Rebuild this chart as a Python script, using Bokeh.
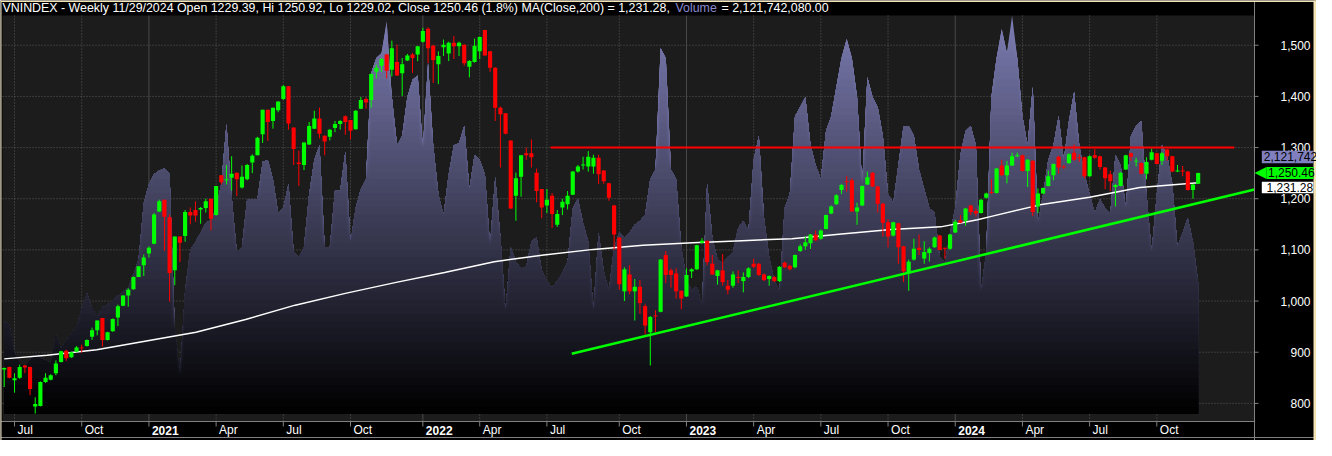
import numpy as np
import pandas as pd
from bokeh.plotting import figure
from bokeh.models import Range1d
from bokeh.core.properties import value
from bokeh.embed import file_html
from bokeh.resources import INLINE

# ---------------- data (weekly VNINDEX bars) ----------------
opens = [866, 871, 845, 850, 874, 871, 794, 795, 842, 846,
         859, 881, 903, 890, 901, 909, 912, 930, 943, 967,
         924, 941, 968, 991, 1011, 1023, 1047, 1070, 1093, 1112,
         1175, 1198, 1164, 1060, 1126, 1127, 1174, 1178, 1179, 1182,
         1200, 1168, 1246, 1236, 1241, 1251, 1222, 1238, 1271, 1285,
         1326, 1374, 1352, 1373, 1395, 1420, 1339, 1271, 1266, 1306,
         1337, 1357, 1323, 1321, 1338, 1346, 1361, 1354, 1336, 1376,
         1395, 1393, 1448, 1460, 1482, 1452, 1467, 1445, 1470, 1482,
         1482, 1507, 1532, 1499, 1463, 1496, 1484, 1505, 1498, 1501,
         1458, 1467, 1488, 1530, 1488, 1456, 1378, 1367, 1314, 1206,
         1243, 1289, 1289, 1251, 1219, 1187, 1206, 1149, 1183, 1189,
         1208, 1253, 1265, 1263, 1263, 1280, 1255, 1230, 1187, 1124,
         1019, 1052, 1019, 1028, 990, 939, 972, 979, 1090, 1060,
         1054, 1020, 1009, 1058, 1062, 1114, 1118, 1073, 1049, 1060,
         1030, 1030, 1047, 1039, 1047, 1073, 1073, 1052, 1043, 1047,
         1039, 1075, 1069, 1066, 1098, 1107, 1113, 1130, 1122, 1141,
         1171, 1189, 1217, 1234, 1236, 1175, 1187, 1228, 1251, 1224,
         1190, 1154, 1128, 1152, 1107, 1054, 1081, 1104, 1083, 1094,
         1105, 1128, 1104, 1102, 1134, 1158, 1157, 1187, 1176, 1172,
         1202, 1213, 1211, 1265, 1246, 1265, 1283, 1285, 1254, 1274,
         1185, 1210, 1225, 1246, 1282, 1263, 1270, 1290, 1281, 1281,
         1244, 1285, 1283, 1261, 1248, 1223, 1225, 1257, 1289, 1273,
         1270, 1249, 1276, 1289, 1274, 1296, 1283, 1253, 1255, 1253,
         1217, 1229.39]
highs = [870, 872, 859, 876, 875, 872, 812, 843, 859, 857,
         884, 903, 905, 901, 912, 915, 925, 948, 962, 967,
         940, 966, 993, 1011, 1025, 1048, 1068, 1091, 1107, 1172,
         1198, 1198, 1169, 1126, 1126, 1178, 1183, 1195, 1184, 1200,
         1200, 1225, 1246, 1266, 1283, 1251, 1265, 1268, 1287, 1321,
         1374, 1374, 1378, 1390, 1422, 1420, 1339, 1294, 1310, 1350,
         1372, 1378, 1324, 1336, 1352, 1354, 1363, 1354, 1373, 1399,
         1398, 1445, 1462, 1475, 1483, 1509, 1501, 1475, 1483, 1485,
         1498, 1534, 1535, 1501, 1488, 1511, 1507, 1518, 1507, 1502,
         1471, 1513, 1517, 1530, 1489, 1457, 1380, 1367, 1314, 1251,
         1285, 1300, 1316, 1259, 1219, 1219, 1211, 1178, 1200, 1215,
         1254, 1266, 1282, 1293, 1286, 1286, 1256, 1231, 1188, 1124,
         1066, 1070, 1043, 1041, 994, 971, 982, 1082, 1098, 1064,
         1064, 1021, 1064, 1064, 1110, 1123, 1118, 1090, 1061, 1092,
         1041, 1058, 1060, 1056, 1066, 1083, 1074, 1054, 1050, 1049,
         1068, 1077, 1071, 1091, 1111, 1126, 1131, 1138, 1140, 1169,
         1187, 1209, 1229, 1244, 1240, 1192, 1226, 1253, 1252, 1225,
         1192, 1160, 1155, 1153, 1108, 1081, 1122, 1130, 1117, 1105,
         1126, 1129, 1104, 1131, 1159, 1168, 1182, 1188, 1181, 1199,
         1212, 1238, 1260, 1276, 1274, 1290, 1290, 1286, 1277, 1275,
         1220, 1222, 1255, 1269, 1284, 1266, 1289, 1306, 1287, 1282,
         1285, 1297, 1284, 1262, 1255, 1229, 1252, 1286, 1290, 1280,
         1271, 1281, 1298, 1290, 1291, 1297, 1284, 1266, 1264, 1254,
         1229, 1250.92]
lows = [832, 849, 821, 848, 859, 816, 780, 794, 840, 845,
        855, 880, 883, 889, 900, 899, 911, 924, 933, 911,
        923, 940, 951, 990, 989, 1022, 1047, 1049, 1085, 1111,
        1174, 1098, 999, 1031, 1076, 1116, 1150, 1155, 1151, 1173,
        1138, 1167, 1228, 1228, 1216, 1205, 1220, 1236, 1250, 1285,
        1309, 1313, 1337, 1369, 1393, 1335, 1266, 1225, 1256, 1305,
        1336, 1318, 1285, 1314, 1330, 1335, 1325, 1316, 1335, 1375,
        1376, 1378, 1435, 1448, 1435, 1439, 1440, 1401, 1469, 1446,
        1469, 1505, 1465, 1426, 1424, 1479, 1469, 1473, 1479, 1460,
        1437, 1466, 1473, 1480, 1448, 1352, 1261, 1326, 1180, 1157,
        1204, 1276, 1261, 1193, 1162, 1172, 1143, 1145, 1168, 1179,
        1207, 1251, 1257, 1253, 1249, 1229, 1229, 1196, 1100, 1022,
        1000, 1013, 962, 975, 935, 874, 939, 978, 1035, 1026,
        1005, 984, 1008, 1045, 1061, 1112, 1070, 1051, 1032, 1030,
        1013, 1026, 1035, 1017, 1045, 1064, 1049, 1039, 1030, 1037,
        1037, 1064, 1060, 1064, 1096, 1100, 1102, 1117, 1120, 1140,
        1170, 1188, 1209, 1214, 1175, 1149, 1186, 1227, 1223, 1173,
        1126, 1105, 1126, 1073, 1037, 1020, 1079, 1090, 1073, 1077,
        1104, 1099, 1083, 1100, 1133, 1152, 1147, 1168, 1165, 1171,
        1200, 1209, 1210, 1245, 1230, 1264, 1281, 1253, 1223, 1166,
        1172, 1209, 1224, 1236, 1249, 1258, 1268, 1274, 1272, 1240,
        1243, 1278, 1257, 1219, 1215, 1185, 1224, 1256, 1274, 1263,
        1248, 1238, 1275, 1267, 1266, 1274, 1252, 1252, 1244, 1216,
        1200, 1229.02]
closes = [869, 850, 849, 871, 870, 828, 799, 842, 850, 855,
          878, 902, 888, 900, 909, 908, 924, 943, 962, 924,
          939, 965, 990, 1011, 1022, 1047, 1068, 1085, 1104, 1169,
          1195, 1165, 1055, 1126, 1114, 1174, 1167, 1167, 1182, 1195,
          1161, 1225, 1232, 1238, 1249, 1238, 1243, 1266, 1284, 1319,
          1374, 1350, 1378, 1390, 1420, 1347, 1297, 1268, 1310, 1342,
          1357, 1327, 1312, 1335, 1346, 1352, 1350, 1333, 1372, 1393,
          1388, 1444, 1456, 1473, 1450, 1494, 1441, 1463, 1480, 1475,
          1498, 1528, 1494, 1471, 1479, 1501, 1505, 1498, 1505, 1465,
          1469, 1499, 1516, 1480, 1456, 1378, 1365, 1327, 1181, 1240,
          1285, 1285, 1281, 1215, 1183, 1198, 1170, 1170, 1194, 1206,
          1253, 1263, 1267, 1282, 1280, 1248, 1234, 1202, 1130, 1033,
          1062, 1019, 1028, 996, 952, 969, 970, 1081, 1051, 1051,
          1019, 1005, 1051, 1062, 1109, 1118, 1076, 1052, 1060, 1037,
          1022, 1052, 1045, 1047, 1064, 1067, 1051, 1041, 1049, 1039,
          1067, 1066, 1062, 1090, 1107, 1115, 1130, 1119, 1138, 1168,
          1185, 1207, 1227, 1232, 1175, 1183, 1225, 1242, 1224, 1190,
          1153, 1126, 1154, 1105, 1058, 1077, 1102, 1100, 1096, 1102,
          1124, 1100, 1102, 1130, 1155, 1153, 1181, 1174, 1171, 1198,
          1210, 1211, 1259, 1246, 1265, 1283, 1285, 1254, 1276, 1174,
          1210, 1221, 1244, 1268, 1261, 1261, 1287, 1276, 1279, 1244,
          1283, 1280, 1262, 1240, 1234, 1227, 1251, 1285, 1282, 1274,
          1249, 1272, 1291, 1268, 1289, 1283, 1253, 1255, 1253, 1217,
          1228, 1250.46]
# weekly volume, billions of shares
volume_bn = [1.49, 1.44, 0.97, 0.82, 0.77, 0.86, 0.97, 0.89, 0.86, 0.82,
             1.27, 1.05, 1.18, 1.29, 1.40, 1.71, 1.95, 1.71, 1.57, 1.73,
             1.76, 1.84, 1.91, 1.99, 2.04, 2.26, 2.50, 3.41, 3.72, 3.88,
             3.94, 3.97, 3.88, 1.37, 0.63, 1.99, 2.65, 2.78, 2.93, 3.09,
             3.14, 3.33, 3.72, 4.69, 3.52, 2.62, 2.70, 3.48, 3.48, 3.48,
             4.08, 4.11, 3.80, 3.25, 3.33, 3.72, 2.62, 2.54, 2.70, 3.56,
             4.11, 4.35, 2.70, 2.70, 3.61, 3.61, 4.24, 2.78, 3.33, 3.64,
             3.80, 5.52, 5.76, 5.84, 6.36, 5.13, 4.35, 4.50, 5.13, 5.41,
             5.48, 4.30, 5.68, 4.35, 3.56, 3.22, 3.88, 4.35, 4.38, 4.66,
             3.64, 4.19, 4.11, 3.88, 2.73, 3.83, 2.86, 1.68, 2.70, 2.46,
             2.35, 2.39, 2.78, 2.86, 2.31, 2.15, 2.04, 2.15, 2.28, 2.46,
             3.33, 3.48, 3.09, 2.78, 1.68, 2.93, 2.31, 1.99, 2.70, 2.93,
             2.86, 2.93, 3.06, 3.12, 3.22, 3.80, 3.95, 5.92, 5.76, 3.95,
             3.80, 2.70, 2.18, 1.99, 2.07, 1.76, 3.72, 2.86, 2.50, 2.43,
             2.54, 2.62, 3.01, 3.12, 2.97, 4.11, 4.50, 3.17, 2.54, 2.15,
             1.99, 3.33, 3.56, 4.82, 4.97, 5.13, 4.35, 4.03, 3.80, 4.58,
             4.82, 5.29, 5.76, 6.07, 5.76, 5.13, 3.72, 5.45, 5.13, 4.97,
             4.50, 3.56, 3.41, 4.03, 4.66, 4.66, 4.50, 3.95, 3.64, 3.33,
             3.25, 2.54, 2.46, 2.93, 3.33, 4.19, 4.58, 4.66, 4.35, 1.99,
             2.62, 5.13, 5.76, 6.23, 5.84, 6.45, 5.76, 4.82, 4.35, 5.29,
             3.09, 3.56, 4.11, 4.35, 4.82, 4.11, 4.74, 5.21, 4.35, 3.88,
             3.56, 3.25, 3.48, 3.33, 3.25, 4.19, 4.03, 3.33, 4.50, 4.66,
             4.74, 3.56, 2.62, 3.56, 4.35, 4.19, 3.72, 2.70, 2.93, 3.17,
             2.78, 2.12]
# MA(Close,200) read at bar positions
ma_bars = [0, 8.3, 17.9, 27.5, 37.1, 46.7, 56.3, 66, 75.6, 85.2, 94.8, 104.4, 114,
           123.6, 133.2, 142.8, 152.4, 162, 171.6, 181.2, 188.3, 190.8, 200.4, 210,
           219.7, 231]
ma_values = [887, 894, 905, 922, 939, 964, 992, 1015, 1036, 1056, 1077, 1090, 1101,
             1109, 1114, 1118, 1122, 1131, 1140, 1145, 1159, 1165, 1188, 1203,
             1222, 1231.28]
resist_bars = [105.7, 238.0]
resist_values = [1300, 1300]
trend_bars = [109.8, 241.9]
trend_values = [897, 1218]
price_ticks = [800, 900, 1000, 1100, 1200, 1300, 1400, 1500]
month_names = {1: "Jan", 4: "Apr", 7: "Jul", 10: "Oct"}
last_volume_text = "2,121,742"
last_close = 1250.46
last_ma = 1231.28
title_main = ("VNINDEX - Weekly 11/29/2024 Open 1229.39, Hi 1250.92, Lo 1229.02, "
              "Close 1250.46 (1.8%) MA(Close,200) = 1,231.28,")
title_vol = "Volume"
title_vol_val = "= 2,121,742,080.00"

# ---------------- layout (canvas pixels) ----------------
W, H = 1316, 440
PL, PR, PT, PB = 2, 1254, 15, 421          # plot area edges in canvas px
X_LO, X_HI = -0.33, 241.9                  # bars shown in the plot area
P_LO, P_HI = 764.6, 1558.1                 # prices shown in the plot area
VOL_TOP = 6.45
VOL_LO = -VOL_TOP * (8 / 419) / (1 - 8 / 419)
FONT = "Liberation Sans"
PXB = (PR - PL) / (X_HI - X_LO)            # px per bar
PPP = (P_HI - P_LO) / (PB - PT)            # price per px
VPP = (VOL_TOP - VOL_LO) / (PB - PT)       # volume per px


def dx(px):
    return px / PXB


def dy(px):
    return px * PPP


XC_LO, XC_HI = X_LO - dx(PL), X_HI + dx(W - PR)
YC_LO, YC_HI = P_LO - dy(H - PB), P_HI + dy(PT)

n = len(closes)
bars = np.arange(n)
dates = [d for d in pd.date_range("2020-06-19", "2024-11-29", freq="W-FRI")
         if d != pd.Timestamp("2022-02-04")]
tick_bars, tick_labels, year_bars, quarter_bars = [], [], [], []
for i in range(1, min(n, len(dates))):
    d = dates[i]
    if d.month != dates[i - 1].month and d.month in month_names:
        tick_bars.append(i)
        if d.month == 1:
            tick_labels.append(str(d.year))
            year_bars.append(i)
        else:
            tick_labels.append(month_names[d.month])
            quarter_bars.append(i)

p = figure(width=W, height=H, output_backend="svg", toolbar_location=None, title=None,
           x_range=Range1d(XC_LO, XC_HI), y_range=Range1d(YC_LO, YC_HI),
           x_axis_location=None, y_axis_location=None,
           min_border_left=0, min_border_right=0, min_border_top=0, min_border_bottom=0)
p.extra_y_ranges = {"vol": Range1d(VOL_LO - (H - PB) * VPP, VOL_TOP + PT * VPP)}
p.background_fill_color = "#000000"
p.border_fill_color = "#000000"
p.outline_line_color = None
p.xgrid.visible = False
p.ygrid.visible = False

GRID = "#5a5a5a"
AXIS = "#808080"

# plot area background
p.quad(left=[X_LO], right=[X_HI], bottom=[P_LO], top=[P_HI], fill_color="#1c1c1c",
       line_color=None)

# grid
p.segment(x0=[X_LO] * len(price_ticks), y0=price_ticks, x1=[X_HI] * len(price_ticks),
          y1=price_ticks, line_color=GRID, line_width=1, line_dash="1 2")
p.segment(x0=quarter_bars, y0=[P_LO] * len(quarter_bars), x1=quarter_bars,
          y1=[P_HI] * len(quarter_bars), line_color=GRID, line_width=1, line_dash="1 2")
p.segment(x0=year_bars, y0=[P_LO] * len(year_bars), x1=year_bars,
          y1=[P_HI] * len(year_bars), line_color="#4a4a4a", line_width=1)

# volume area with vertical gradient (stacked bands)
vol = np.array(volume_bn, dtype=float)
N = 56
top_rgb = np.array([124, 124, 178], dtype=float)
zeros = np.zeros(n)
for k in range(N - 1, -1, -1):
    hi = VOL_TOP * (k + 1) / N
    f = (k + 0.5) / N
    r, g, b = (top_rgb * f).astype(int)
    p.varea(x=bars, y1=zeros, y2=np.minimum(vol, hi), fill_color="#%02x%02x%02x" % (r, g, b),
            y_range_name="vol")

# MA line
p.line(ma_bars, ma_values, line_color="#ffffff", line_width=1.5)

# candles
o = np.array(opens, float); c = np.array(closes, float)
hh = np.array(highs, float); ll = np.array(lows, float)
cols = np.where(c >= o, "#00ff00", "#ff0000")
btop = np.maximum(o, c); bbot = np.minimum(o, c)
mid = (btop + bbot) / 2
thin = (btop - bbot) < 1.8
btop = np.where(thin, mid + 0.9, btop)
bbot = np.where(thin, mid - 0.9, bbot)
p.segment(x0=bars, y0=ll, x1=bars, y1=hh, line_color=cols, line_width=1)
p.vbar(x=bars, width=0.8, top=btop, bottom=bbot, fill_color=cols, line_color=None)

# trend / resistance lines
p.line(resist_bars, resist_values, line_color="#ff0000", line_width=2)
p.line(trend_bars, trend_values, line_color="#00ff00", line_width=2.5)

# axes lines and ticks
p.segment(x0=[X_HI], y0=[YC_LO], x1=[X_HI], y1=[YC_HI], line_color=AXIS, line_width=1)
p.segment(x0=[XC_LO], y0=[P_LO], x1=[X_HI], y1=[P_LO], line_color=AXIS, line_width=1)
p.segment(x0=[XC_LO], y0=[P_LO - dy(16)], x1=[XC_HI], y1=[P_LO - dy(16)], line_color=AXIS,
          line_width=1)
p.segment(x0=[X_HI] * len(price_ticks), y0=price_ticks,
          x1=[X_HI + dx(4)] * len(price_ticks), y1=price_ticks, line_color=AXIS, line_width=1)
p.segment(x0=tick_bars, y0=[P_LO] * len(tick_bars), x1=tick_bars,
          y1=[P_LO - dy(5)] * len(tick_bars), line_color=AXIS, line_width=1)

# frame border (light strip on top, right and left like the source window)
BEIGE = "#f3e2b4"
p.quad(left=[XC_LO], right=[XC_HI], bottom=[YC_HI - dy(1.5)], top=[YC_HI], fill_color=BEIGE,
       line_color=None)
p.quad(left=[XC_HI - dx(3)], right=[XC_HI], bottom=[YC_LO], top=[YC_HI], fill_color=BEIGE,
       line_color=None)
p.quad(left=[XC_LO], right=[XC_LO + dx(1)], bottom=[YC_LO], top=[YC_HI], fill_color=BEIGE,
       line_color=None)

TXT = dict(text_font=value(FONT), text_font_size=value("12px"))
TTL = dict(text_font=value(FONT), text_font_size=value("12.4px"))

# right axis price labels
p.text(x=[X_HI + dx(56)] * len(price_ticks), y=price_ticks,
       text=[f"{v:,}" for v in price_ticks], text_align=value("right"),
       text_baseline=value("middle"), text_color=value("#ffffff"), **TXT)

# value boxes on right axis
box_r = XC_HI - dx(3)
vol_y = 1281.6
ma_y = 1222.0
p.quad(left=[X_HI + dx(7.3)], right=[box_r], bottom=[vol_y - dy(6.2)], top=[vol_y + dy(6.2)],
       fill_color="#8080c0", line_color=None)
p.patch(x=[X_HI, X_HI + dx(12), X_HI + dx(12)],
        y=[last_close, last_close + dy(6), last_close - dy(6)], fill_color="#00ff00",
        line_color=None)
p.quad(left=[X_HI + dx(12)], right=[box_r], bottom=[last_close - dy(6)],
       top=[last_close + dy(6)], fill_color="#00ff00", line_color=None)
p.quad(left=[X_HI + dx(7.3)], right=[box_r], bottom=[ma_y - dy(5.8)], top=[ma_y + dy(5.8)],
       fill_color="#ffffff", line_color=None)
p.text(x=[X_HI + dx(9.3), X_HI + dx(13.5), X_HI + dx(12)], y=[vol_y, last_close, ma_y],
       text=[last_volume_text, f"{last_close:,.2f}", f"{last_ma:,.2f}"],
       text_align=value("left"), text_baseline=value("middle"), text_color=value("#000000"),
       **TXT)

# x-axis labels
yl = P_LO - dy(8.5)
for bold in (False, True):
    sel = [(b, t) for b, t in zip(tick_bars, tick_labels) if t.isdigit() == bold]
    p.text(x=[b + dx(3) for b, _ in sel], y=[yl] * len(sel), text=[t for _, t in sel],
           text_align=value("left"), text_baseline=value("middle"),
           text_color=value("#ffffff"), text_font_style=value("bold" if bold else "normal"),
           **TXT)

# title line
yt = P_HI + dy(7.5)
p.text(x=[XC_LO + dx(2)], y=[yt], text=[title_main], text_align=value("left"),
       text_baseline=value("middle"), text_color=value("#ffffff"), **TTL)
p.text(x=[XC_LO + dx(675)], y=[yt], text=[title_vol], text_align=value("left"),
       text_baseline=value("middle"), text_color=value("#8a8ad0"), **TTL)
p.text(x=[XC_LO + dx(721)], y=[yt], text=[title_vol_val], text_align=value("left"),
       text_baseline=value("middle"), text_color=value("#ffffff"), **TTL)

open("out.html", "w").write(file_html(p, INLINE))
